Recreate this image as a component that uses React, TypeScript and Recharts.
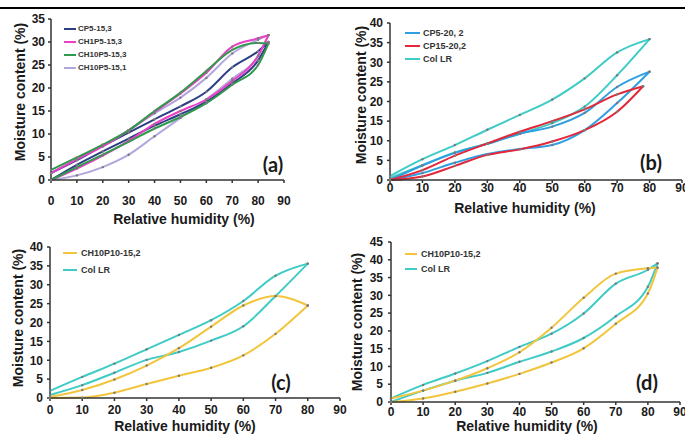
import React from 'react';
import { LineChart, Line, XAxis, YAxis } from 'recharts';

// relative humidity steps per panel
const rhA = [0, 10, 20, 30, 40, 50, 60, 70, 80, 84];
const rhB = [0, 10, 20, 30, 40, 50, 60, 70, 80];
const rhB2 = [0, 10, 20, 30, 40, 50, 60, 70, 78];
const rhC = [0, 10, 20, 30, 40, 50, 60, 70, 80];
const rhD = [0, 10, 20, 30, 40, 50, 60, 70, 80, 83];

// (a) adsorption / desorption
const cp5_15_3_ads = [0, 3.3, 6.2, 9.0, 11.8, 14.3, 17.0, 21.0, 26.0, 30.0];
const cp5_15_3_des = [1.5, 4.3, 7.4, 10.3, 13.2, 16.0, 19.2, 24.5, 28.0, 30.0];
const ch1p5_15_3_ads = [0, 2.5, 5.3, 8.5, 12.2, 15.0, 17.5, 21.5, 27.0, 31.5];
const ch1p5_15_3_des = [1.5, 4.5, 7.3, 10.8, 14.8, 18.8, 23.3, 29.0, 30.8, 31.5];
const ch10p5_15_3_ads = [0, 2.8, 5.5, 8.3, 11.2, 13.7, 16.7, 20.7, 25.0, 29.7];
const ch10p5_15_3_des = [2.2, 4.9, 7.7, 10.8, 15.0, 19.0, 23.7, 28.3, 29.8, 29.7];
const ch10p5_15_1_ads = [0, 1.0, 2.8, 5.5, 9.5, 13.5, 17.5, 22.0, 27.0, 31.5];
const ch10p5_15_1_des = [1.5, 4.5, 7.5, 10.8, 14.5, 17.9, 22.2, 27.5, 30.5, 31.5];

// (b)
const cp5_20_2_ads = [0, 1.8, 4.4, 6.6, 7.9, 8.9, 12.7, 19.6, 27.6];
const cp5_20_2_des = [0, 3.7, 6.9, 9.2, 11.8, 13.6, 17.1, 23.7, 27.6];
const cp15_20_2_ads = [0, 0.9, 3.6, 6.4, 7.8, 9.8, 12.7, 17.4, 23.9];
const cp15_20_2_des = [0, 2.5, 6.2, 9.3, 12.3, 15.0, 18.0, 21.8, 23.9];
const colB_ads = [0.5, 3.8, 7.0, 9.3, 11.8, 14.5, 18.7, 26.7, 35.9];
const colB_des = [1.0, 5.3, 8.9, 12.8, 16.6, 20.5, 25.9, 32.5, 35.9];

// (c)
const ch10p10C_ads = [0, 0.1, 1.4, 3.7, 5.9, 8.0, 11.3, 17.0, 24.5];
const ch10p10C_des = [0.3, 2.1, 4.9, 8.6, 13.2, 18.9, 24.5, 27.0, 24.5];
const colC_ads = [0.8, 3.4, 6.7, 10.1, 12.2, 15.2, 19.0, 27.0, 35.6];
const colC_des = [1.9, 5.6, 9.1, 12.9, 16.7, 20.6, 25.7, 32.4, 35.6];

// (d)
const ch10p10D_ads = [0, 1.0, 2.9, 5.2, 7.9, 11.1, 15.1, 22.0, 30.5, 37.8];
const ch10p10D_des = [1.0, 3.2, 6.0, 9.5, 14.0, 20.9, 29.3, 36.1, 37.6, 37.8];
const colD_ads = [0, 3.2, 6.0, 8.2, 11.3, 14.2, 18.0, 24.1, 32.4, 39.0];
const colD_des = [1.0, 4.8, 8.0, 11.5, 15.5, 19.2, 24.9, 33.3, 37.2, 39.0];

const xTicks = [0, 10, 20, 30, 40, 50, 60, 70, 80, 90];
const yTicks35 = [0, 5, 10, 15, 20, 25, 30, 35];
const yTicks40 = [0, 5, 10, 15, 20, 25, 30, 35, 40];
const yTicks45 = [0, 5, 10, 15, 20, 25, 30, 35, 40, 45];

const FONT = '"Liberation Sans", Arial, sans-serif';

type Series = { name: string; color: string; x: number[]; ads: number[]; des: number[] };

const toPoints = (x: number[], y: number[]) => x.map((v, i) => ({ x: v, y: y[i] }));

const seriesA: Series[] = [
  { name: 'CP5-15,3', color: '#2c3f85', x: rhA, ads: cp5_15_3_ads, des: cp5_15_3_des },
  { name: 'CH1P5-15,3', color: '#ec3fc6', x: rhA, ads: ch1p5_15_3_ads, des: ch1p5_15_3_des },
  { name: 'CH10P5-15,3', color: '#2f9a4c', x: rhA, ads: ch10p5_15_3_ads, des: ch10p5_15_3_des },
  { name: 'CH10P5-15,1', color: '#b3a6dc', x: rhA, ads: ch10p5_15_1_ads, des: ch10p5_15_1_des },
];
const seriesB: Series[] = [
  { name: 'CP5-20, 2', color: '#2f9fe2', x: rhB, ads: cp5_20_2_ads, des: cp5_20_2_des },
  { name: 'CP15-20,2', color: '#e2283a', x: rhB2, ads: cp15_20_2_ads, des: cp15_20_2_des },
  { name: 'Col LR', color: '#3fcbc6', x: rhB, ads: colB_ads, des: colB_des },
];
const seriesC: Series[] = [
  { name: 'CH10P10-15,2', color: '#f2c53c', x: rhC, ads: ch10p10C_ads, des: ch10p10C_des },
  { name: 'Col LR', color: '#3fcbc6', x: rhC, ads: colC_ads, des: colC_des },
];
const seriesD: Series[] = [
  { name: 'CH10P10-15,2', color: '#f2c53c', x: rhD, ads: ch10p10D_ads, des: ch10p10D_des },
  { name: 'Col LR', color: '#3fcbc6', x: rhD, ads: colD_ads, des: colD_des },
];

type PanelProps = {
  left: number;
  top: number;
  width: number;
  height: number;
  margin: { top: number; right: number; bottom: number; left: number };
  yMax: number;
  yTicks: number[];
  series: Series[];
  drawOrder: number[];
  xTickMargin: number;
  xAxisHeight: number;
  yTickMargin: number;
  label: string;
  labelPos: [number, number];
  xTitlePos: [number, number];
  yTitlePos: [number, number];
  legendPos: { lineX: number; textX: number; rows: number[]; fontSize: number; lineW: number };
};

const Panel: React.FC<PanelProps> = (p) => {
  const tickStyle = { fontSize: 12, fontWeight: 700, fill: '#1a1a1a', fontFamily: FONT };
  return (
    <>
      <div style={{ position: 'absolute', left: p.left, top: p.top }}>
        <LineChart width={p.width} height={p.height} margin={p.margin}>
          <XAxis
            type="number"
            dataKey="x"
            domain={[0, 90]}
            ticks={xTicks}
            interval={0}
            allowDuplicatedCategory={false}
            tick={tickStyle}
            tickSize={3}
            tickMargin={p.xTickMargin}
            height={p.xAxisHeight}
            stroke="#333"
            strokeWidth={1.5}
          />
          <YAxis
            type="number"
            dataKey="y"
            domain={[0, p.yMax]}
            ticks={p.yTicks}
            interval={0}
            tick={tickStyle}
            tickSize={3}
            tickMargin={p.yTickMargin}
            width={40}
            stroke="#333"
            strokeWidth={1.5}
          />
          {p.drawOrder.flatMap((idx) => {
            const s = p.series[idx];
            return [
              <Line
                key={s.name + '-ads'}
                data={toPoints(s.x, s.ads)}
                dataKey="y"
                type="monotone"
                stroke={s.color}
                strokeWidth={2}
                dot={{ r: 1.2, fill: '#7a7a7a', stroke: 'none' }}
                activeDot={false}
                isAnimationActive={false}
              />,
              <Line
                key={s.name + '-des'}
                data={toPoints(s.x, s.des)}
                dataKey="y"
                type="monotone"
                stroke={s.color}
                strokeWidth={2}
                dot={{ r: 1.2, fill: '#7a7a7a', stroke: 'none' }}
                activeDot={false}
                isAnimationActive={false}
              />,
            ];
          })}
        </LineChart>
      </div>
      {p.series.map((s, i) => (
        <div key={'lg' + i}>
          <div
            style={{
              position: 'absolute',
              left: p.legendPos.lineX,
              top: p.legendPos.rows[i] - 1,
              width: p.legendPos.lineW,
              height: 2,
              background: s.color,
            }}
          />
          <div
            style={{
              position: 'absolute',
              left: p.legendPos.textX,
              top: p.legendPos.rows[i],
              transform: 'translateY(-50%)',
              fontSize: p.legendPos.fontSize,
              fontWeight: 700,
              fontFamily: FONT,
              color: '#333',
              whiteSpace: 'nowrap',
              lineHeight: 1,
            }}
          >
            {s.name}
          </div>
        </div>
      ))}
      <div
        style={{
          position: 'absolute',
          left: p.xTitlePos[0],
          top: p.xTitlePos[1],
          transform: 'translate(-50%, -50%)',
          fontSize: 14,
          fontWeight: 700,
          fontFamily: FONT,
          color: '#1a1a1a',
          whiteSpace: 'nowrap',
          lineHeight: 1,
        }}
      >
        Relative humidity (%)
      </div>
      <div
        style={{
          position: 'absolute',
          left: p.yTitlePos[0],
          top: p.yTitlePos[1],
          transform: 'translate(-50%, -50%) rotate(-90deg)',
          fontSize: 14,
          fontWeight: 700,
          fontFamily: FONT,
          color: '#1a1a1a',
          whiteSpace: 'nowrap',
          lineHeight: 1,
        }}
      >
        Moisture content (%)
      </div>
      <div
        style={{
          position: 'absolute',
          left: p.labelPos[0],
          top: p.labelPos[1],
          transform: 'translate(-50%, -50%)',
          fontSize: 20,
          fontWeight: 700,
          fontFamily: 'Lato, "Open Sans", sans-serif',
          color: '#1a1a1a',
          lineHeight: 1,
        }}
      >
        {p.label}
      </div>
    </>
  );
};

const App: React.FC = () => {
  return (
    <div style={{ position: 'absolute', left: 0, top: 0, width: 685, height: 435, background: '#fff', overflow: 'hidden' }}>
      <div style={{ position: 'absolute', left: 0, top: 7, width: 685, height: 2, background: '#000' }} />
      <Panel
        left={0}
        top={0}
        width={300}
        height={230}
        margin={{ top: 19, right: 16, bottom: 20, left: 11 }}
        yMax={35}
        yTicks={yTicks35}
        series={seriesA}
        drawOrder={[3, 0, 1, 2]}
        xTickMargin={13}
        xAxisHeight={30}
        yTickMargin={3}
        label="(a)"
        labelPos={[273, 164]}
        xTitlePos={[184, 219]}
        yTitlePos={[20, 92]}
        legendPos={{ lineX: 64, textX: 78, rows: [29, 42, 55, 68], fontSize: 8, lineW: 12 }}
      />
      <Panel
        left={340}
        top={0}
        width={345}
        height={215}
        margin={{ top: 23, right: 3, bottom: 15, left: 10 }}
        yMax={40}
        yTicks={yTicks40}
        series={seriesB}
        drawOrder={[2, 0, 1]}
        xTickMargin={0}
        xAxisHeight={20}
        yTickMargin={4}
        label="(b)"
        labelPos={[651, 162]}
        xTitlePos={[525, 208]}
        yTitlePos={[361, 95]}
        legendPos={{ lineX: 405, textX: 423, rows: [33, 46, 59], fontSize: 9, lineW: 15 }}
      />
      <Panel
        left={0}
        top={230}
        width={360}
        height={205}
        margin={{ top: 17, right: 20, bottom: 17, left: 10 }}
        yMax={40}
        yTicks={yTicks40}
        series={seriesC}
        drawOrder={[1, 0]}
        xTickMargin={4}
        xAxisHeight={20}
        yTickMargin={4}
        label="(c)"
        labelPos={[281, 382]}
        xTitlePos={[185, 426]}
        yTitlePos={[18, 318]}
        legendPos={{ lineX: 63, textX: 81, rows: [253, 270], fontSize: 9, lineW: 14 }}
      />
      <Panel
        left={340}
        top={230}
        width={345}
        height={205}
        margin={{ top: 12, right: 5, bottom: 13, left: 11 }}
        yMax={45}
        yTicks={yTicks45}
        series={seriesD}
        drawOrder={[1, 0]}
        xTickMargin={2}
        xAxisHeight={20}
        yTickMargin={5}
        label="(d)"
        labelPos={[647, 382]}
        xTitlePos={[527, 426]}
        yTitlePos={[357, 322]}
        legendPos={{ lineX: 405, textX: 421, rows: [254, 269], fontSize: 9, lineW: 12 }}
      />
    </div>
  );
};

export default App;
